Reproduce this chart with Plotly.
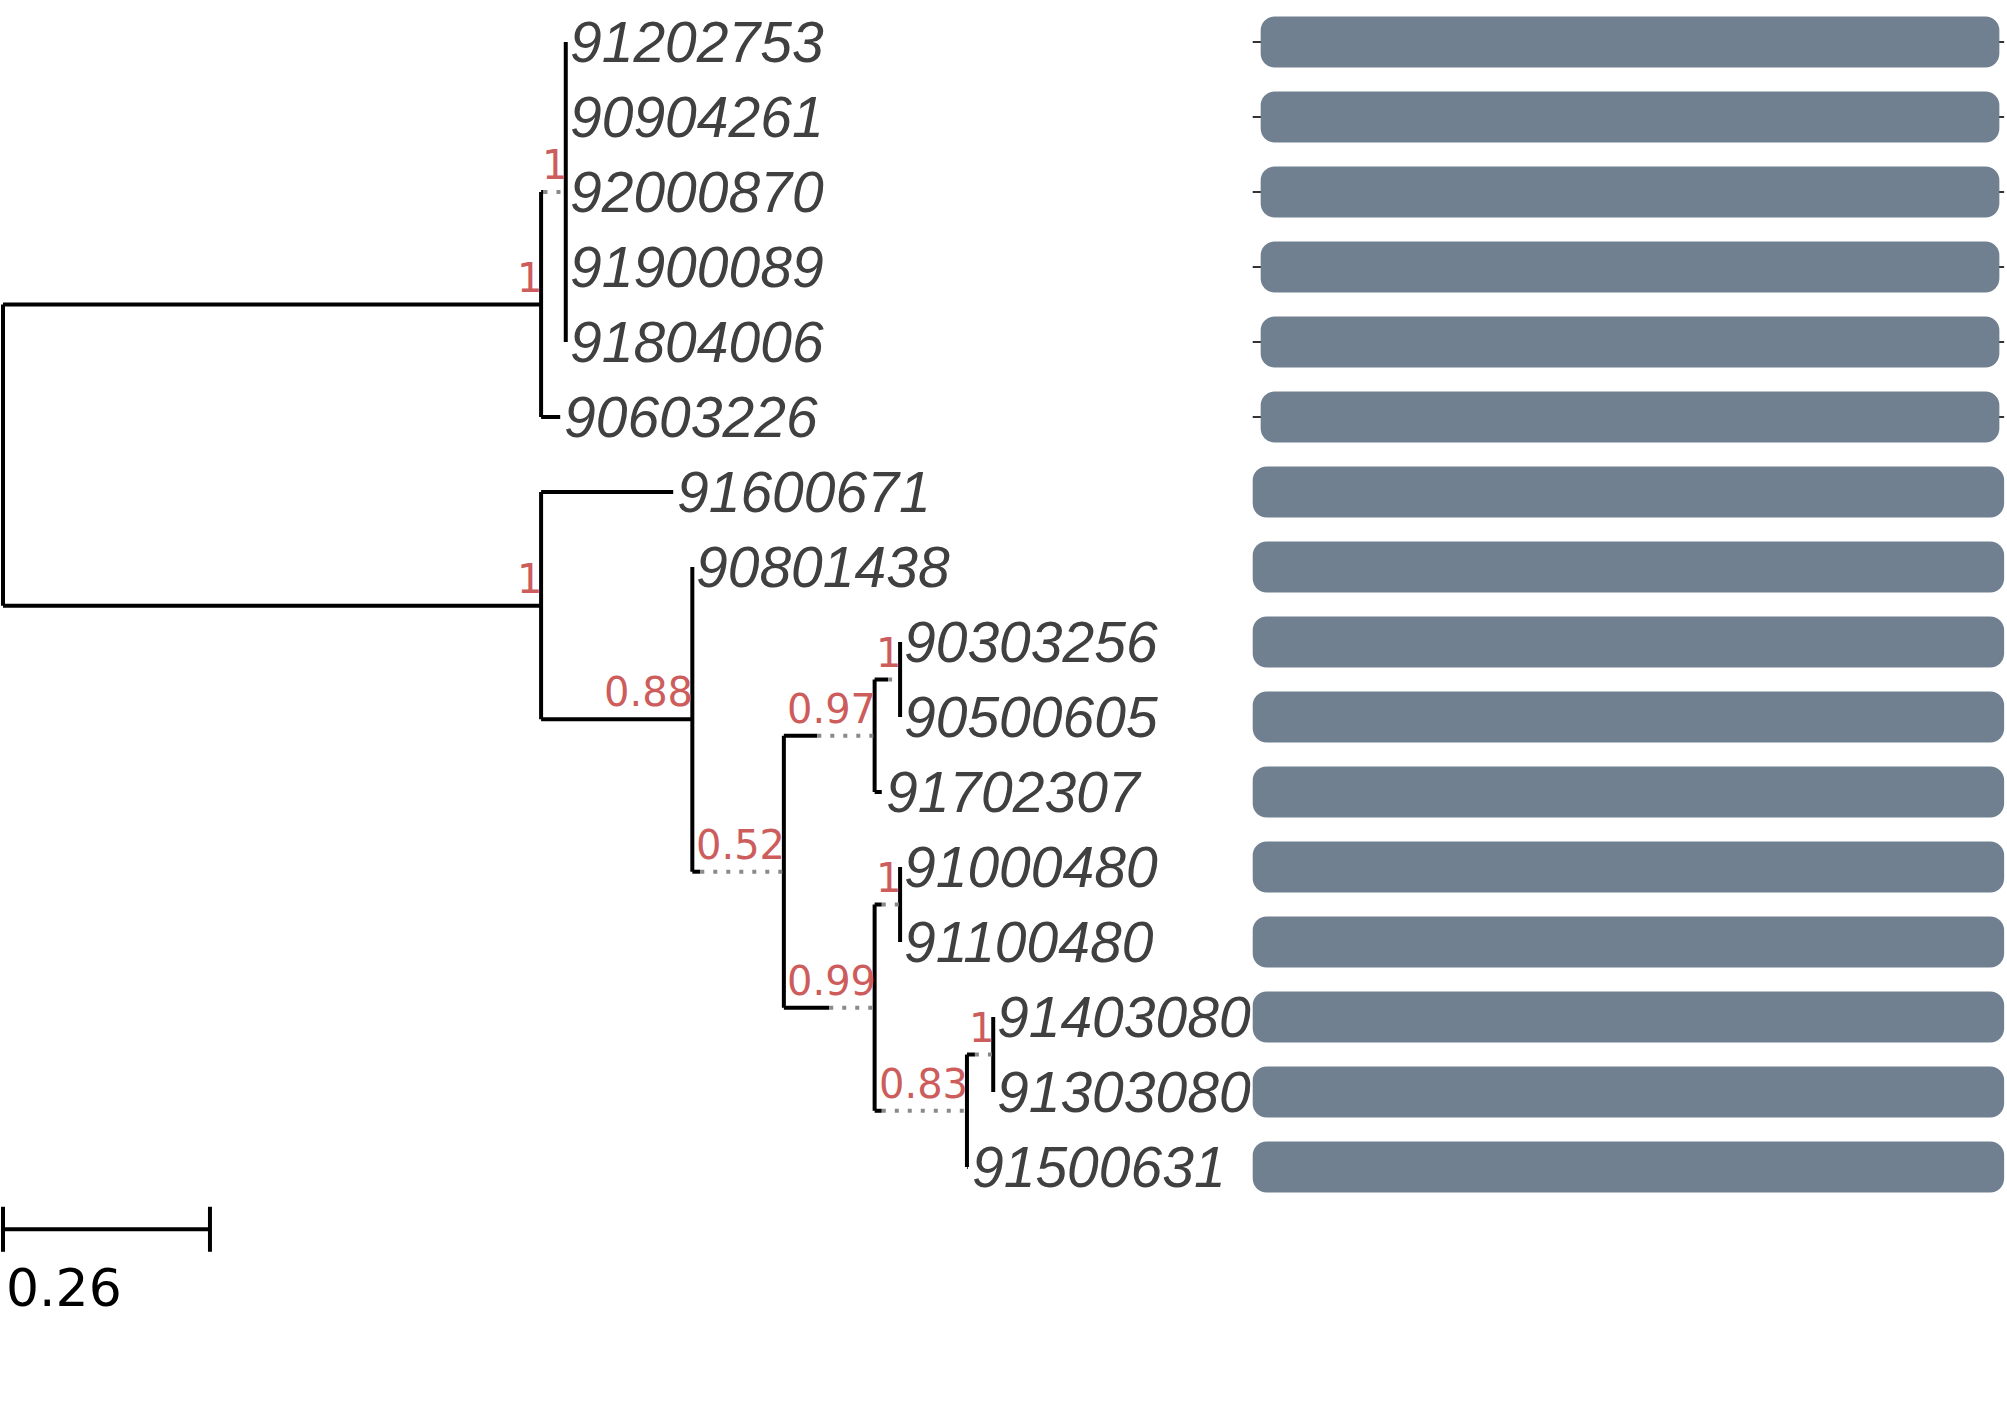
import plotly.graph_objects as go

BLACK: str = '#000000'
DOT_GREY: str = '#8a8a8a'
LABEL_GREY: str = '#404040'
SUPPORT_RED: str = '#cd5c5c'
BAR_COLOR: str = '#708090'

# tips, top to bottom
TIP_LABELS = [
    '91202753', '90904261', '92000870', '91900089', '91804006', '90603226',
    '91600671', '90801438', '90303256', '90500605', '91702307', '91000480',
    '91100480', '91403080', '91303080', '91500631',
]

# every node of the tree: its parent and its distance from the root
NODES = ['root', 'A', 'B', 'A1', 'B2', 'C', 'D', 'E', 'F', 'G', 'H', 'I'] + TIP_LABELS
PARENTS = [None, 'root', 'root', 'A', 'B', 'B2', 'C', 'D', 'C', 'F', 'F', 'H',
           'A1', 'A1', 'A1', 'A1', 'A1', 'A',
           'B', 'B2', 'E', 'E', 'D', 'G',
           'G', 'I', 'I', 'H']
DEPTHS = [0.0, 0.676, 0.676, 0.707, 0.866, 0.981, 1.095, 1.127, 1.095, 1.127, 1.211, 1.244,
          0.707, 0.707, 0.707, 0.707, 0.707, 0.700,
          0.842, 0.866, 1.127, 1.127, 1.104, 1.127,
          1.127, 1.244, 1.244, 1.212]

# node support values
SUPPORT_NODES = ['A', 'A1', 'B', 'B2', 'C', 'D', 'E', 'F', 'G', 'H', 'I']
SUPPORT_TEXT = ['1', '1', '1', '0.88', '0.52', '0.97', '1', '0.99', '1', '0.83', '1']

# internal branches drawn solid only for the first part, dotted afterwards
DOTTED_NODES = ['A1', 'C', 'D', 'E', 'F', 'G', 'H', 'I']
SOLID_LENGTH = [0.003, 0.010, 0.042, 0.017, 0.057, 0.009, 0.009, 0.010]

# gene blocks on the right
BAR_START = [1.580] * 6 + [1.570] * 10
BAR_END = [2.508] * 6 + [2.514] * 10
BACKBONE_START = [1.570] * 6
BACKBONE_END = [2.514] * 6

SCALE_LENGTH: float = 0.26


def layout_tree() -> tuple:
    parent = dict(zip(NODES, PARENTS))
    depth = dict(zip(NODES, DEPTHS))
    children = {n: [] for n in NODES}
    for n, p in parent.items():
        if p is not None:
            children[p].append(n)

    ypos = {t: i + 1 for i, t in enumerate(TIP_LABELS)}

    def get_y(n):
        if n not in ypos:
            ys = [get_y(c) for c in children[n]]
            ypos[n] = (min(ys) + max(ys)) / 2
        return ypos[n]

    get_y('root')
    return parent, depth, children, ypos


def build_branches(parent, depth, children, ypos) -> tuple:
    solid_x, solid_y, dot_x, dot_y = [], [], [], []
    solid_len = dict(zip(DOTTED_NODES, SOLID_LENGTH))

    for n in NODES:
        p = parent[n]
        if p is not None:
            x0, x1, y = depth[p], depth[n], ypos[n]
            if n in solid_len:
                xm = x0 + solid_len[n]
                solid_x += [x0, xm, None]
                solid_y += [y, y, None]
                dot_x += [xm, x1, None]
                dot_y += [y, y, None]
            else:
                solid_x += [x0, x1, None]
                solid_y += [y, y, None]
        if children[n]:
            ys = [ypos[c] for c in children[n]]
            solid_x += [depth[n], depth[n], None]
            solid_y += [min(ys), max(ys), None]
    return solid_x, solid_y, dot_x, dot_y


parent, depth, children, ypos = layout_tree()
solid_x, solid_y, dot_x, dot_y = build_branches(parent, depth, children, ypos)

fig = go.Figure()

# thin backbone behind the first six blocks (a bar so it stays under the blocks)
fig.add_trace(go.Bar(
    y=[i + 1 for i in range(len(BACKBONE_START))], base=BACKBONE_START,
    x=[e - s for s, e in zip(BACKBONE_START, BACKBONE_END)],
    orientation='h', width=0.028,
    marker={'color': '#333333', 'line': {'width': 0}}, hoverinfo='skip'))

# blocks, rounded on all corners (floating base)
tip_y = [i + 1 for i in range(len(TIP_LABELS))]
fig.add_trace(go.Bar(
    y=tip_y, base=BAR_START, x=[e - s for s, e in zip(BAR_START, BAR_END)],
    orientation='h', width=0.68,
    marker={'color': BAR_COLOR, 'cornerradius': 14, 'line': {'width': 0}},
    hoverinfo='skip'))

fig.add_trace(go.Scatter(x=solid_x, y=solid_y, mode='lines',
                         line={'color': BLACK, 'width': 4}, hoverinfo='skip'))
fig.add_trace(go.Scatter(x=dot_x, y=dot_y, mode='lines',
                         line={'color': DOT_GREY, 'width': 4, 'dash': '4px,9px'},
                         hoverinfo='skip'))

# scale bar
sb_y = 16.83
fig.add_trace(go.Scatter(
    x=[0, SCALE_LENGTH, None, 0, 0, None, SCALE_LENGTH, SCALE_LENGTH],
    y=[sb_y, sb_y, None, sb_y - 0.3, sb_y + 0.3, None, sb_y - 0.3, sb_y + 0.3],
    mode='lines', line={'color': BLACK, 'width': 4}, hoverinfo='skip'))

annotations = []
for t in TIP_LABELS:
    annotations.append(dict(
        x=depth[t], y=ypos[t], text=t, showarrow=False,
        xanchor='left', yanchor='middle', xshift=2,
        font={'family': 'Liberation Sans', 'size': 57, 'color': LABEL_GREY,
              'style': 'italic'}))

for n, s in zip(SUPPORT_NODES, SUPPORT_TEXT):
    annotations.append(dict(
        x=depth[n], y=ypos[n], text=s, showarrow=False,
        xanchor='right', yanchor='bottom', xshift=3, yshift=2,
        font={'family': 'DejaVu Sans', 'size': 40, 'color': SUPPORT_RED}))

annotations.append(dict(
    x=0, y=sb_y + 0.3, text=f'{SCALE_LENGTH:g}', showarrow=False,
    xanchor='left', yanchor='top', xshift=1, yshift=-4,
    font={'family': 'DejaVu Sans', 'size': 52, 'color': BLACK}))

fig.update_layout(
    width=2007, height=1417,
    margin={'l': 0, 'r': 0, 't': 0, 'b': 0},
    plot_bgcolor='white', paper_bgcolor='white',
    showlegend=False, barmode='overlay',
    xaxis={'range': [-0.00377, 2.5176], 'visible': False},
    yaxis={'range': [19.333, 0.44], 'visible': False},
    annotations=annotations,
)

# the page body has a default margin; drop it so the figure sits at the window corner
fig.write_html('out.html', config={'displayModeBar': False},
               post_script="document.body.style.margin='0';")
